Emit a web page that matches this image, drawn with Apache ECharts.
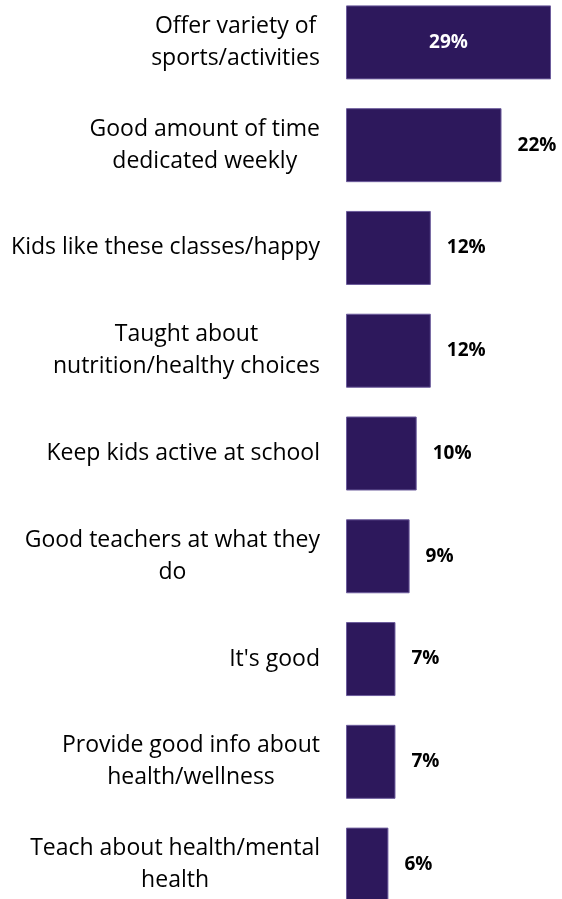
<!DOCTYPE html>
<html>
<head>
<meta charset="utf-8">
<script src="https://cdn.jsdelivr.net/npm/echarts@6/dist/echarts.min.js"></script>
<style>
  html, body { margin: 0; padding: 0; background: #fff; overflow: hidden; }
  /* bands run slightly past the window edges, as in the reference */
  #chart { position: absolute; left: 0; top: -9px; width: 562px; height: 925px; }
</style>
</head>
<body>
<div id="chart"></div>
<script>
const categories = [
  "Offer variety of\nsports/activities",
  "Good amount of time\ndedicated weekly",
  "Kids like these classes/happy",
  "Taught about\nnutrition/healthy choices",
  "Keep kids active at school",
  "Good teachers at what they\ndo",
  "It's good",
  "Provide good info about\nhealth/wellness",
  "Teach about health/mental\nhealth"
];
const values = [29, 22, 12, 12, 10, 9, 7, 7, 6];

const barColor = "#2d185c";
const fontFamily = "Open Sans";

// center each line inside the right-aligned label block
const wrapLines = (s) => s.split("\n").map(l => "{c|" + l + "}").join("\n");

const chart = echarts.init(document.getElementById("chart"), null, { renderer: "canvas" });

const seriesData = values.map((v, i) => ({
  value: v,
  label: i === 0
    ? { position: "inside", color: "#ffffff" }
    : { position: "right", color: "#000000" }
}));

chart.setOption({
  animation: false,
  grid: { left: 346, right: 0, top: 0, bottom: 0, containLabel: false },
  xAxis: {
    type: "value",
    min: 0,
    max: 29 * 216 / 205,
    show: false
  },
  yAxis: {
    type: "category",
    inverse: true,
    data: categories,
    axisLine: { show: false },
    axisTick: { show: false },
    axisLabel: {
      margin: 26,
      align: "right",
      fontFamily: fontFamily,
      fontSize: 23,
      color: "#000000",
      lineHeight: 32,
      formatter: wrapLines,
      rich: { c: { align: "center", fontFamily: fontFamily, fontSize: 23, lineHeight: 32, color: "#000" } }
    }
  },
  series: [{
    type: "bar",
    data: seriesData,
    barCategoryGap: "28%",
    itemStyle: { color: barColor, borderColor: "#6c5c9c", borderWidth: 1 },
    label: {
      show: true,
      formatter: "{c}%",
      fontFamily: fontFamily,
      fontWeight: "bold",
      fontSize: 19,
      distance: 16
    }
  }]
});
</script>
</body>
</html>
